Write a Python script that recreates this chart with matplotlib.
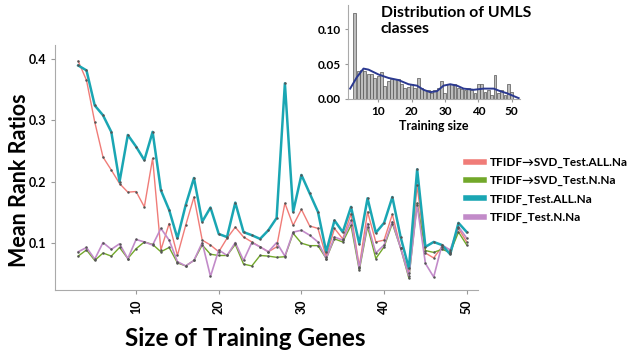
import numpy as np
import matplotlib.pyplot as plt

plt.rcParams['font.family'] = ['Lato', 'DejaVu Sans']
plt.rcParams['font.weight'] = 'bold'

# training gene sizes
sizes = list(range(3, 51))

svd_all = [0.396, 0.365, 0.297, 0.240, 0.219, 0.197, 0.183, 0.184, 0.159, 0.238,
           0.089, 0.132, 0.080, 0.129, 0.175, 0.105, 0.097, 0.086, 0.108, 0.126,
           0.110, 0.102, 0.094, 0.086, 0.094, 0.165, 0.129, 0.155, 0.128, 0.124,
           0.078, 0.124, 0.107, 0.148, 0.062, 0.151, 0.102, 0.105, 0.147, 0.092,
           0.051, 0.194, 0.084, 0.076, 0.094, 0.084, 0.124, 0.102]
svd_n = [0.079, 0.089, 0.072, 0.084, 0.079, 0.093, 0.075, 0.091, 0.102, 0.098,
         0.086, 0.093, 0.068, 0.063, 0.072, 0.097, 0.082, 0.080, 0.080, 0.098,
         0.066, 0.063, 0.080, 0.079, 0.077, 0.078, 0.116, 0.100, 0.096, 0.096,
         0.075, 0.107, 0.102, 0.129, 0.056, 0.127, 0.075, 0.094, 0.132, 0.092,
         0.043, 0.165, 0.088, 0.085, 0.090, 0.085, 0.118, 0.097]
tfidf_all = [0.389, 0.381, 0.324, 0.308, 0.281, 0.200, 0.276, 0.257, 0.235, 0.281,
             0.186, 0.154, 0.108, 0.162, 0.206, 0.135, 0.158, 0.115, 0.110, 0.166,
             0.118, 0.113, 0.107, 0.121, 0.141, 0.360, 0.151, 0.211, 0.181, 0.151,
             0.086, 0.137, 0.118, 0.159, 0.099, 0.173, 0.117, 0.133, 0.175, 0.110,
             0.059, 0.220, 0.094, 0.102, 0.097, 0.082, 0.133, 0.118]
tfidf_n = [0.086, 0.093, 0.074, 0.101, 0.090, 0.099, 0.075, 0.106, 0.102, 0.097,
           0.124, 0.105, 0.070, 0.063, 0.072, 0.101, 0.046, 0.089, 0.080, 0.101,
           0.072, 0.101, 0.094, 0.086, 0.101, 0.079, 0.118, 0.121, 0.113, 0.102,
           0.075, 0.110, 0.105, 0.137, 0.059, 0.132, 0.084, 0.097, 0.135, 0.092,
           0.046, 0.162, 0.067, 0.045, 0.097, 0.089, 0.127, 0.108]

# inset: distribution of UMLS classes
hist_vals = [0.123, 0.040, 0.042, 0.040, 0.035, 0.035, 0.030, 0.033, 0.038, 0.018,
             0.025, 0.028, 0.028, 0.028, 0.022, 0.016, 0.017, 0.022, 0.016, 0.030,
             0.016, 0.012, 0.013, 0.008, 0.012, 0.016, 0.026, 0.008, 0.021, 0.022,
             0.021, 0.015, 0.014, 0.013, 0.015, 0.013, 0.008, 0.022, 0.022, 0.010,
             0.013, 0.006, 0.034, 0.008, 0.012, 0.006, 0.022, 0.010]
dens_x = [1.6, 3.6, 5.6, 7.1, 10.1, 13.1, 16.1, 19.1, 21.6, 23.6, 25.6, 27.6,
          29.6, 31.6, 33.6, 35.6, 38.6, 41.6, 44.6, 46.6, 48.6, 50.6, 52.1]
dens_y = [0.0147, 0.031, 0.0435, 0.042, 0.035, 0.030, 0.027, 0.021, 0.019, 0.013,
          0.0096, 0.011, 0.019, 0.021, 0.019, 0.0147, 0.013, 0.0147, 0.0147, 0.011,
          0.008, 0.004, 0.001]

labels = ['TFIDF\u2192SVD_Test.ALL.Na', 'TFIDF\u2192SVD_Test.N.Na',
          'TFIDF_Test.ALL.Na', 'TFIDF_Test.N.Na']
colors = ['#F07C78', '#72A82A', '#1AA6B3', '#C28BC9']


def main():
    fig = plt.figure(figsize=(6.33, 3.53), dpi=100)
    ax = fig.add_axes([0.087, 0.178, 0.668, 0.694])

    series = [svd_all, svd_n, tfidf_all, tfidf_n]
    widths = [1.0, 1.0, 1.8, 1.2]
    for vals, col, lw, lab in zip(series, colors, widths, labels):
        ax.plot(sizes, vals, color=col, lw=lw, label=lab, zorder=3 if lw > 1.5 else 2)
        ax.plot(sizes, vals, ls='none', marker='o', ms=0.8, color='#555555', zorder=4)

    ax.set_xlim(0.2, 51.35)
    ax.set_ylim(0.0236, 0.422)
    ax.set_xticks([10, 20, 30, 40, 50])
    ax.set_yticks([0.1, 0.2, 0.3, 0.4])
    ax.set_yticklabels(['0.1', '0.2', '0.3', '0.4'])
    ax.tick_params(axis='x', labelrotation=90, labelsize=9, colors='#999999',
                   labelcolor='black', length=3)
    ax.tick_params(axis='y', labelsize=9, colors='#999999', labelcolor='black', length=3)
    for s in ['top', 'right']:
        ax.spines[s].set_visible(False)
    for s in ['left', 'bottom']:
        ax.spines[s].set_color('#aaaaaa')
    ax.set_ylabel('Mean Rank Ratios', fontsize=15.5, fontweight='bold')
    ax.yaxis.set_label_coords(-0.06, 0.45)
    ax.set_xlabel('Size of Training Genes', fontsize=17.5, fontweight='bold')
    ax.xaxis.set_label_coords(0.45, -0.15)

    fig.legend([plt.Line2D([], [], color=c, lw=4) for c in colors], labels,
               loc='upper left', bbox_to_anchor=(0.72, 0.585), frameon=False,
               handlelength=1.5, handletextpad=0.5, labelspacing=0.6,
               prop={'weight': 'bold', 'size': 8.5})

    # inset histogram
    ins = fig.add_axes([0.55, 0.72, 0.272, 0.266])
    ins.bar(sizes, hist_vals, width=0.85, color='#bdbdbd', edgecolor='#555555', lw=0.5)
    ins.plot(dens_x, dens_y, color='#2B3990', lw=1.4)
    ins.set_xlim(1.0, 52.6)
    ins.set_ylim(0, 0.135)
    ins.set_xticks([10, 20, 30, 40, 50])
    ins.set_yticks([0.0, 0.05, 0.10])
    ins.set_yticklabels(['0.00', '0.05', '0.10'])
    ins.tick_params(labelsize=8.5, colors='#999999', labelcolor='black', length=2)
    for s in ['top', 'right']:
        ins.spines[s].set_visible(False)
    for s in ['left', 'bottom']:
        ins.spines[s].set_color('#aaaaaa')
    ins.set_xlabel('Training size', fontsize=9, fontweight='bold', labelpad=2)
    ins.patch.set_alpha(0)
    ins.text(0.19, 0.99, 'Distribution of UMLS\nclasses', transform=ins.transAxes,
             ha='left', va='top', fontsize=11.3, fontweight='bold', linespacing=1.2)

    fig.savefig('out.png', dpi=100)
    plt.close(fig)


if __name__ == '__main__':
    main()
